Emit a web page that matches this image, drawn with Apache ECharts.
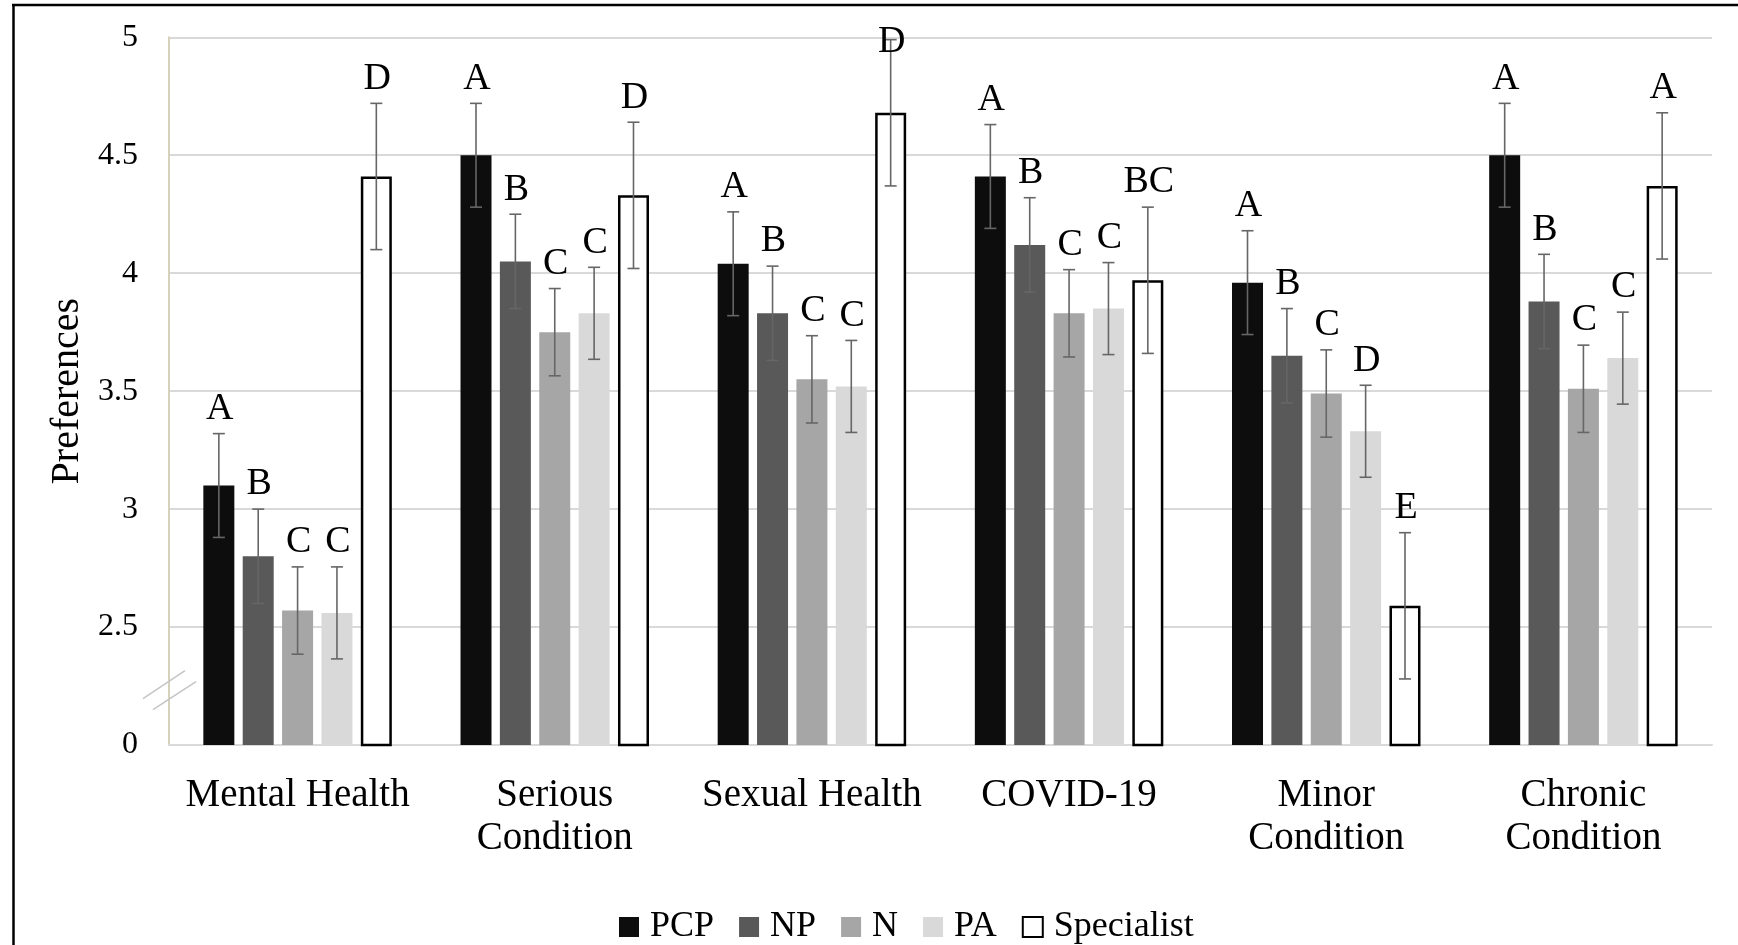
<!DOCTYPE html>
<html><head><meta charset="utf-8">
<script src="https://cdn.jsdelivr.net/npm/echarts@6/dist/echarts.min.js"></script>
<style>html,body{margin:0;padding:0;background:#fff}#c{width:1738px;height:945px}</style>
</head><body><div id="c"></div>
<script>
// ---- data ----
const categories = ['Mental Health', 'Serious\nCondition', 'Sexual Health', 'COVID-19', 'Minor\nCondition', 'Chronic\nCondition'];
const seriesNames = ['PCP', 'NP', 'N', 'PA', 'Specialist'];
const pcp        = [3.10, 4.50, 4.04, 4.41, 3.96, 4.50];
const np         = [2.80, 4.05, 3.83, 4.12, 3.65, 3.88];
const n          = [2.57, 3.75, 3.55, 3.83, 3.49, 3.51];
const pa         = [2.56, 3.83, 3.52, 3.85, 3.33, 3.64];
const specialist = [4.41, 4.33, 4.68, 3.97, 2.59, 4.37];
const pcpErr        = [0.22, 0.22, 0.22, 0.22, 0.22, 0.22];
const npErr         = [0.20, 0.20, 0.20, 0.20, 0.20, 0.20];
const nErr          = [0.185, 0.185, 0.185, 0.185, 0.185, 0.185];
const paErr         = [0.195, 0.195, 0.195, 0.195, 0.195, 0.195];
const specialistErr = [0.31, 0.31, 0.31, 0.31, 0.31, 0.31];
const pcpLetters        = ['A', 'A', 'A', 'A', 'A', 'A'];
const npLetters         = ['B', 'B', 'B', 'B', 'B', 'B'];
const nLetters          = ['C', 'C', 'C', 'C', 'C', 'C'];
const paLetters         = ['C', 'C', 'C', 'C', 'D', 'C'];
const specialistLetters = ['D', 'D', 'D', 'BC', 'E', 'A'];
const yMin = 2, yMax = 5, yStep = 0.5;   // axis broken: bottom tick shown as 0
const yBreakLabel = '0';

// ---- style ----
const FONT = '"Liberation Serif", "DejaVu Serif", serif';
const colors = ['#0d0d0d', '#595959', '#a6a6a6', '#d9d9d9', '#ffffff'];
const BW = 31, GAP = 0.27;
const GRID = {left: 169, right: 26, top: 37.3, bottom: 200};
const LETTER_SIZE = 38;

const values = [pcp, np, n, pa, specialist];
const errs = [pcpErr, npErr, nErr, paErr, specialistErr];
const letters = [pcpLetters, npLetters, nLetters, paLetters, specialistLetters];

const barSeries = seriesNames.map((name, si) => ({
  type: 'bar', name: name, data: values[si],
  barWidth: BW, barGap: (GAP * 100) + '%',
  itemStyle: si === 4 ? {color: '#ffffff', borderColor: '#000', borderWidth: 2.5} : {color: colors[si]},
  emphasis: {disabled: true}, z: 2
}));

const errSeries = seriesNames.map((name, si) => ({
  type: 'custom', name: name + '_err', z: 5, silent: true,
  data: values[si].map((v, i) => [i, v - errs[si][i], v + errs[si][i]]),
  encode: {x: 0, y: [1, 2]},
  renderItem: function (params, api) {
    const idx = api.value(0);
    const lo = api.coord([idx, api.value(1)]);
    const hi = api.coord([idx, api.value(2)]);
    const total = 5 * BW + 4 * BW * GAP;
    const x = lo[0] - total / 2 + si * BW * (1 + GAP) + BW / 2;
    const cap = 6;
    const st = {stroke: '#666666', lineWidth: 1.6};
    const baseline = Math.max(hi[1] - 14, GRID.top + 15);
    return {type: 'group', children: [
      {type: 'line', shape: {x1: x, y1: lo[1], x2: x, y2: hi[1]}, style: st},
      {type: 'line', shape: {x1: x - cap, y1: lo[1], x2: x + cap, y2: lo[1]}, style: st},
      {type: 'line', shape: {x1: x - cap, y1: hi[1], x2: x + cap, y2: hi[1]}, style: st},
      {type: 'text', x: x + 1, y: baseline + 0.22 * LETTER_SIZE, style: {
        text: letters[si][params.dataIndex], fill: '#000', fontSize: LETTER_SIZE, fontFamily: FONT,
        align: 'center', verticalAlign: 'bottom'}}
    ]};
  }
}));

const chart = echarts.init(document.getElementById('c'), null, {renderer: 'canvas'});
chart.setOption({
  animation: false,
  backgroundColor: '#fff',
  grid: GRID,
  legend: {
    data: seriesNames, left: 614, top: 902, itemWidth: 20, itemHeight: 20, itemGap: 25,
    icon: 'rect', selectedMode: false,
    textStyle: {fontFamily: FONT, fontSize: 36, color: '#000', lineHeight: 40, padding: [0, 0, 0, 6]}
  },
  xAxis: {
    type: 'category', data: categories,
    axisLine: {show: true, lineStyle: {color: '#d9d9d9', width: 2}},
    axisTick: {show: false},
    axisLabel: {fontFamily: FONT, fontSize: 39, color: '#000', lineHeight: 43, margin: 29, interval: 0}
  },
  yAxis: {
    type: 'value', min: yMin, max: yMax, interval: yStep,
    name: 'Preferences', nameLocation: 'middle', nameGap: 78,
    nameTextStyle: {fontFamily: FONT, fontSize: 40, color: '#000'},
    axisLine: {show: true, lineStyle: {color: '#d6d1bd', width: 2}},
    axisTick: {show: false},
    axisLabel: {fontFamily: FONT, fontSize: 32, color: '#000', margin: 31,
      formatter: v => (v === yMin ? yBreakLabel : String(v))},
    splitLine: {show: true, lineStyle: {color: '#d9d9d9', width: 2}}
  },
  series: barSeries.concat(errSeries)
});

// axis-break marks and frame
const yb1 = chart.convertToPixel({yAxisIndex: 0}, 2.256);
const yb2 = chart.convertToPixel({yAxisIndex: 0}, 2.209);
const ax = GRID.left;
const brk = {stroke: '#c6c6c6', lineWidth: 1.6};
chart.setOption({
  graphic: [
    {type: 'line', shape: {x1: ax - 26, y1: yb1 + 14, x2: ax + 16, y2: yb1 - 14}, style: brk, z: 10},
    {type: 'line', shape: {x1: ax - 16, y1: yb2 + 14, x2: ax + 27, y2: yb2 - 14}, style: brk, z: 10},
    {type: 'line', shape: {x1: 12, y1: 5, x2: 1738, y2: 5}, style: {stroke: '#000', lineWidth: 2.5}},
    {type: 'line', shape: {x1: 13.5, y1: 4, x2: 13.5, y2: 945}, style: {stroke: '#000', lineWidth: 2.5}}
  ]
});
</script>
</body></html>
